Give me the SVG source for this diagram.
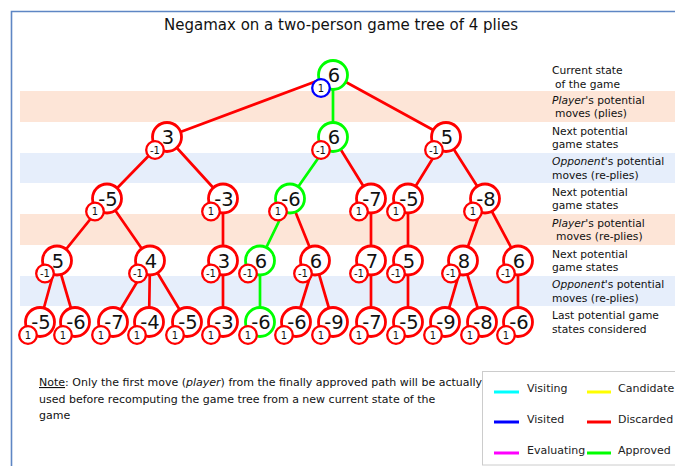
<svg xmlns="http://www.w3.org/2000/svg" width="675" height="466" viewBox="0 0 675 466">
<style>
text{font-family:"DejaVu Sans",Verdana,sans-serif;fill:#111}
.title{font-size:15px;text-anchor:middle}
.lab{font-size:10.7px;fill:#222}
.note{font-size:11px;fill:#222}
.leg{font-size:11px;fill:#222}
.big{fill:#fff;stroke-width:2.8}
.sm{fill:#fff;stroke-width:2.3}
.r{stroke:#ff0000}.g{stroke:#00ff00}.b{stroke:#0000ff}
.n{font-size:19.5px;text-anchor:middle}
.s{font-size:10px;text-anchor:middle}
#connectors line{stroke-width:2.7;stroke-linecap:round}
.sw{stroke-width:3}
</style>
<rect width="675" height="466" fill="#fff"/>
<path d="M11.5 466 V11.5 H676" fill="none" stroke="#5e86c4" stroke-width="1.6"/>
<text class="title" x="341" y="30">Negamax on a two-person game tree of 4 plies</text>
<g id="bands">
<rect x="20" y="91" width="655" height="31" fill="#fde5d7"/>
<rect x="20" y="153" width="655" height="30" fill="#e6eefb"/>
<rect x="20" y="214" width="655" height="31" fill="#fde5d7"/>
<rect x="20" y="276" width="655" height="30" fill="#e6eefb"/>
</g>
<g id="labels" class="lab">
<text x="552" y="74">Current state</text>
<text x="555" y="87.5">of the game</text>
<text x="552" y="103.8"><tspan font-style="italic">Player</tspan>'s potential</text>
<text x="555" y="117.3">moves (plies)</text>
<text x="552" y="134.8">Next potential</text>
<text x="552" y="148.3">game states</text>
<text x="552" y="165.3"><tspan font-style="italic">Opponent</tspan>'s potential</text>
<text x="552" y="178.8">moves (re-plies)</text>
<text x="552" y="195.8">Next potential</text>
<text x="552" y="209.3">game states</text>
<text x="552" y="226.8"><tspan font-style="italic">Player</tspan>'s potential</text>
<text x="556" y="240.3">moves (re-plies)</text>
<text x="552" y="257.8">Next potential</text>
<text x="552" y="271.3">game states</text>
<text x="552" y="288.3"><tspan font-style="italic">Opponent</tspan>'s potential</text>
<text x="552" y="301.8">moves (re-plies)</text>
<text x="552" y="319">Last potential game</text>
<text x="552" y="332.5">states considered</text>
</g>
<g id="connectors">
<line x1="333" y1="75" x2="167" y2="137" stroke="#ff0000"/>
<line x1="333" y1="75" x2="333" y2="137" stroke="#00ff00"/>
<line x1="333" y1="75" x2="446" y2="137" stroke="#ff0000"/>
<line x1="167" y1="137" x2="107" y2="198.5" stroke="#ff0000"/>
<line x1="167" y1="137" x2="223" y2="198.5" stroke="#ff0000"/>
<line x1="333" y1="137" x2="290" y2="198.5" stroke="#00ff00"/>
<line x1="333" y1="137" x2="371" y2="198.5" stroke="#ff0000"/>
<line x1="446" y1="137" x2="408" y2="198.5" stroke="#ff0000"/>
<line x1="446" y1="137" x2="485" y2="198.5" stroke="#ff0000"/>
<line x1="107" y1="198.5" x2="57" y2="260.5" stroke="#ff0000"/>
<line x1="107" y1="198.5" x2="150" y2="260.5" stroke="#ff0000"/>
<line x1="223" y1="198.5" x2="223" y2="260.5" stroke="#ff0000"/>
<line x1="290" y1="198.5" x2="260" y2="260.5" stroke="#00ff00"/>
<line x1="290" y1="198.5" x2="315" y2="260.5" stroke="#ff0000"/>
<line x1="371" y1="198.5" x2="371" y2="260.5" stroke="#ff0000"/>
<line x1="408" y1="198.5" x2="408" y2="260.5" stroke="#ff0000"/>
<line x1="485" y1="198.5" x2="463" y2="260.5" stroke="#ff0000"/>
<line x1="485" y1="198.5" x2="518" y2="260.5" stroke="#ff0000"/>
<line x1="57" y1="260.5" x2="40" y2="322" stroke="#ff0000"/>
<line x1="57" y1="260.5" x2="75" y2="322" stroke="#ff0000"/>
<line x1="150" y1="260.5" x2="113" y2="322" stroke="#ff0000"/>
<line x1="150" y1="260.5" x2="149" y2="322" stroke="#ff0000"/>
<line x1="150" y1="260.5" x2="187" y2="322" stroke="#ff0000"/>
<line x1="223" y1="260.5" x2="223" y2="322" stroke="#ff0000"/>
<line x1="260" y1="260.5" x2="260" y2="322" stroke="#00ff00"/>
<line x1="315" y1="260.5" x2="296" y2="322" stroke="#ff0000"/>
<line x1="315" y1="260.5" x2="333" y2="322" stroke="#ff0000"/>
<line x1="371" y1="260.5" x2="371" y2="322" stroke="#ff0000"/>
<line x1="408" y1="260.5" x2="408" y2="322" stroke="#ff0000"/>
<line x1="463" y1="260.5" x2="445" y2="322" stroke="#ff0000"/>
<line x1="463" y1="260.5" x2="482" y2="322" stroke="#ff0000"/>
<line x1="518" y1="260.5" x2="518" y2="322" stroke="#ff0000"/>
</g>
<g id="n0"><circle class="big g" cx="333" cy="75" r="14.5"/><text class="n" x="334" y="82">6</text><circle class="sm b" cx="321" cy="88" r="8.8"/><text class="s" x="321" y="91.5">1</text></g>
<g id="n1a"><circle class="big r" cx="167" cy="137" r="14.5"/><text class="n" x="168" y="144">3</text><circle class="sm r" cx="155" cy="150" r="8.8"/><text class="s" x="155" y="153.5">-1</text></g>
<g id="n1b"><circle class="big g" cx="333" cy="137" r="14.5"/><text class="n" x="334" y="144">6</text><circle class="sm r" cx="321" cy="150" r="8.8"/><text class="s" x="321" y="153.5">-1</text></g>
<g id="n1c"><circle class="big r" cx="446" cy="137" r="14.5"/><text class="n" x="447" y="144">5</text><circle class="sm r" cx="434" cy="150" r="8.8"/><text class="s" x="434" y="153.5">-1</text></g>
<g id="n2a"><circle class="big r" cx="107" cy="198.5" r="14.5"/><text class="n" x="108" y="205.5">-5</text><circle class="sm r" cx="95" cy="211.5" r="8.8"/><text class="s" x="95" y="215">1</text></g>
<g id="n2b"><circle class="big r" cx="223" cy="198.5" r="14.5"/><text class="n" x="224" y="205.5">-3</text><circle class="sm r" cx="211" cy="211.5" r="8.8"/><text class="s" x="211" y="215">1</text></g>
<g id="n2c"><circle class="big g" cx="290" cy="198.5" r="14.5"/><text class="n" x="291" y="205.5">-6</text><circle class="sm r" cx="278" cy="211.5" r="8.8"/><text class="s" x="278" y="215">1</text></g>
<g id="n2d"><circle class="big r" cx="371" cy="198.5" r="14.5"/><text class="n" x="372" y="205.5">-7</text><circle class="sm r" cx="359" cy="211.5" r="8.8"/><text class="s" x="359" y="215">1</text></g>
<g id="n2e"><circle class="big r" cx="408" cy="198.5" r="14.5"/><text class="n" x="409" y="205.5">-5</text><circle class="sm r" cx="396" cy="211.5" r="8.8"/><text class="s" x="396" y="215">1</text></g>
<g id="n2f"><circle class="big r" cx="485" cy="198.5" r="14.5"/><text class="n" x="486" y="205.5">-8</text><circle class="sm r" cx="473" cy="211.5" r="8.8"/><text class="s" x="473" y="215">1</text></g>
<g id="n3a"><circle class="big r" cx="57" cy="260.5" r="14.5"/><text class="n" x="58" y="267.5">5</text><circle class="sm r" cx="45" cy="273.5" r="8.8"/><text class="s" x="45" y="277">-1</text></g>
<g id="n3b"><circle class="big r" cx="150" cy="260.5" r="14.5"/><text class="n" x="151" y="267.5">4</text><circle class="sm r" cx="138" cy="273.5" r="8.8"/><text class="s" x="138" y="277">-1</text></g>
<g id="n3c"><circle class="big r" cx="223" cy="260.5" r="14.5"/><text class="n" x="224" y="267.5">3</text><circle class="sm r" cx="211" cy="273.5" r="8.8"/><text class="s" x="211" y="277">-1</text></g>
<g id="n3d"><circle class="big g" cx="260" cy="260.5" r="14.5"/><text class="n" x="261" y="267.5">6</text><circle class="sm r" cx="248" cy="273.5" r="8.8"/><text class="s" x="248" y="277">-1</text></g>
<g id="n3e"><circle class="big r" cx="315" cy="260.5" r="14.5"/><text class="n" x="316" y="267.5">6</text><circle class="sm r" cx="303" cy="273.5" r="8.8"/><text class="s" x="303" y="277">-1</text></g>
<g id="n3f"><circle class="big r" cx="371" cy="260.5" r="14.5"/><text class="n" x="372" y="267.5">7</text><circle class="sm r" cx="359" cy="273.5" r="8.8"/><text class="s" x="359" y="277">-1</text></g>
<g id="n3g"><circle class="big r" cx="408" cy="260.5" r="14.5"/><text class="n" x="409" y="267.5">5</text><circle class="sm r" cx="396" cy="273.5" r="8.8"/><text class="s" x="396" y="277">-1</text></g>
<g id="n3h"><circle class="big r" cx="463" cy="260.5" r="14.5"/><text class="n" x="464" y="267.5">8</text><circle class="sm r" cx="451" cy="273.5" r="8.8"/><text class="s" x="451" y="277">-1</text></g>
<g id="n3i"><circle class="big r" cx="518" cy="260.5" r="14.5"/><text class="n" x="519" y="267.5">6</text><circle class="sm r" cx="506" cy="273.5" r="8.8"/><text class="s" x="506" y="277">-1</text></g>
<g id="n4a"><circle class="big r" cx="40" cy="322" r="14.5"/><text class="n" x="41" y="329">-5</text><circle class="sm r" cx="28" cy="335" r="8.8"/><text class="s" x="28" y="338.5">1</text></g>
<g id="n4b"><circle class="big r" cx="75" cy="322" r="14.5"/><text class="n" x="76" y="329">-6</text><circle class="sm r" cx="63" cy="335" r="8.8"/><text class="s" x="63" y="338.5">1</text></g>
<g id="n4c"><circle class="big r" cx="113" cy="322" r="14.5"/><text class="n" x="114" y="329">-7</text><circle class="sm r" cx="101" cy="335" r="8.8"/><text class="s" x="101" y="338.5">1</text></g>
<g id="n4d"><circle class="big r" cx="149" cy="322" r="14.5"/><text class="n" x="150" y="329">-4</text><circle class="sm r" cx="137" cy="335" r="8.8"/><text class="s" x="137" y="338.5">1</text></g>
<g id="n4e"><circle class="big r" cx="187" cy="322" r="14.5"/><text class="n" x="188" y="329">-5</text><circle class="sm r" cx="175" cy="335" r="8.8"/><text class="s" x="175" y="338.5">1</text></g>
<g id="n4f"><circle class="big r" cx="223" cy="322" r="14.5"/><text class="n" x="224" y="329">-3</text><circle class="sm r" cx="211" cy="335" r="8.8"/><text class="s" x="211" y="338.5">1</text></g>
<g id="n4g"><circle class="big g" cx="260" cy="322" r="14.5"/><text class="n" x="261" y="329">-6</text><circle class="sm r" cx="248" cy="335" r="8.8"/><text class="s" x="248" y="338.5">1</text></g>
<g id="n4h"><circle class="big r" cx="296" cy="322" r="14.5"/><text class="n" x="297" y="329">-6</text><circle class="sm r" cx="284" cy="335" r="8.8"/><text class="s" x="284" y="338.5">1</text></g>
<g id="n4i"><circle class="big r" cx="333" cy="322" r="14.5"/><text class="n" x="334" y="329">-9</text><circle class="sm r" cx="321" cy="335" r="8.8"/><text class="s" x="321" y="338.5">1</text></g>
<g id="n4j"><circle class="big r" cx="371" cy="322" r="14.5"/><text class="n" x="372" y="329">-7</text><circle class="sm r" cx="359" cy="335" r="8.8"/><text class="s" x="359" y="338.5">1</text></g>
<g id="n4k"><circle class="big r" cx="408" cy="322" r="14.5"/><text class="n" x="409" y="329">-5</text><circle class="sm r" cx="396" cy="335" r="8.8"/><text class="s" x="396" y="338.5">1</text></g>
<g id="n4l"><circle class="big r" cx="445" cy="322" r="14.5"/><text class="n" x="446" y="329">-9</text><circle class="sm r" cx="433" cy="335" r="8.8"/><text class="s" x="433" y="338.5">1</text></g>
<g id="n4m"><circle class="big r" cx="482" cy="322" r="14.5"/><text class="n" x="483" y="329">-8</text><circle class="sm r" cx="470" cy="335" r="8.8"/><text class="s" x="470" y="338.5">1</text></g>
<g id="n4n"><circle class="big r" cx="518" cy="322" r="14.5"/><text class="n" x="519" y="329">-6</text><circle class="sm r" cx="506" cy="335" r="8.8"/><text class="s" x="506" y="338.5">1</text></g>
<g id="note" class="note">
<text x="39" y="386"><tspan text-decoration="underline">Note</tspan>: Only the first move (<tspan font-style="italic">player</tspan>) from the finally approved path will be actually</text>
<text x="39" y="402.5">used before recomputing the game tree from a new current state of the</text>
<text x="39" y="419">game</text>
</g>
<g id="legend">
<rect x="482.5" y="371.5" width="200" height="93.5" fill="#fff" stroke="#cccccc"/>
<line class="sw" x1="494" y1="392" x2="519" y2="392" stroke="#00ffff"/>
<line class="sw" x1="494" y1="422" x2="519" y2="422" stroke="#0000ff"/>
<line class="sw" x1="494" y1="453" x2="519" y2="453" stroke="#ff00ff"/>
<line class="sw" x1="587" y1="392" x2="611" y2="392" stroke="#ffff00"/>
<line class="sw" x1="587" y1="422" x2="611" y2="422" stroke="#ff0000"/>
<line class="sw" x1="587" y1="453" x2="611" y2="453" stroke="#00ff00"/>
<text class="leg" x="527" y="392">Visiting</text>
<text class="leg" x="527" y="423">Visited</text>
<text class="leg" x="527" y="453.5">Evaluating</text>
<text class="leg" x="618" y="392">Candidate</text>
<text class="leg" x="618" y="423">Discarded</text>
<text class="leg" x="618" y="453.5">Approved</text>
</g>
</svg>
